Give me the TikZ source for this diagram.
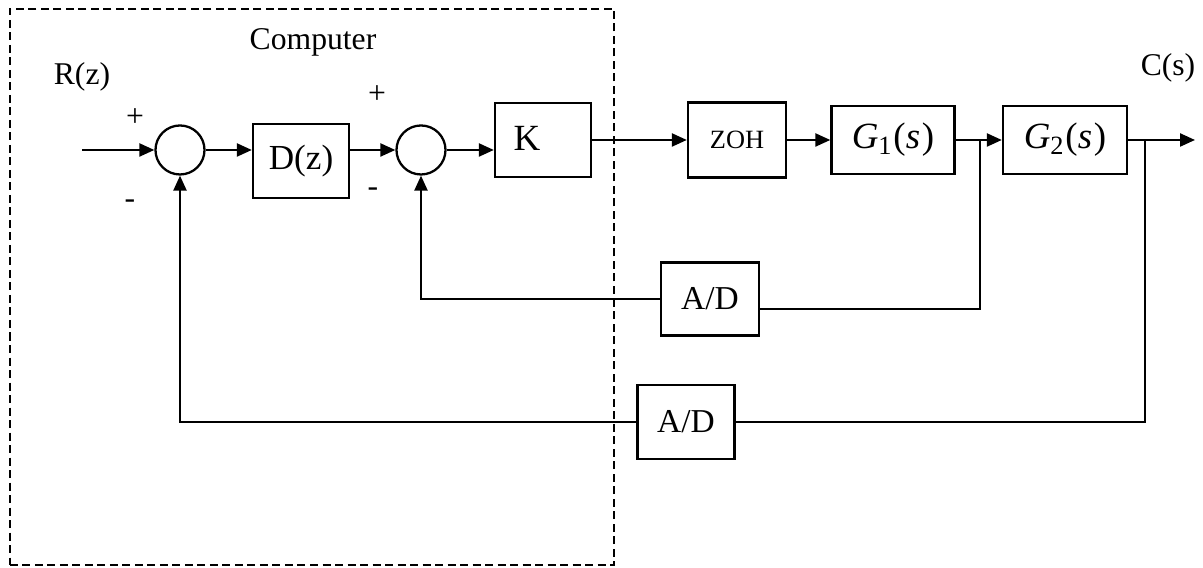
\documentclass[tikz,border=0pt]{standalone}
\usepackage{fontspec}
\setmainfont{Liberation Serif}
\usetikzlibrary{arrows.meta}
\newcommand{\gfun}[1]{\textit{G}\raisebox{-0.35ex}{\fontsize{7.5}{9}\selectfont #1}\kern0.05em(\textit{s}\kern0.05em)}
\begin{document}
\begin{tikzpicture}[x=0.01cm,y=-0.01cm,
  blk/.style={draw,line width=0.65pt,minimum height=0.74cm,inner sep=0pt,font=\fontsize{10}{12}\selectfont},
  sumc/.style={draw,circle,line width=0.65pt,minimum size=0.49cm,inner sep=0pt},
  conn/.style={line width=0.65pt},
  arr/.style={conn,-{Triangle[length=0.15cm,width=0.13cm]}},
  lbl/.style={font=\fontsize{9}{11}\selectfont,inner sep=0pt},
  sgn/.style={font=\fontsize{9}{11}\selectfont,inner sep=0pt},
  ]
\useasboundingbox (0,0) rectangle (1203,568);
% computer boundary
\node[draw,line width=0.6pt,dash pattern=on 0.08cm off 0.045cm,minimum width=6.04cm,minimum height=5.56cm,inner sep=0pt] (comp) at (312,287) {};
\node[lbl] (complbl) at (313,42) {Computer};
\node[lbl] (Rz) at (82,77) {R(z)};
\node[lbl] (Cs) at (1168,68) {C(s)};
% blocks
\node[sumc] (s1) at (180,150) {};
\node[blk,minimum width=0.96cm] (D) at (301,161) {D(z)};
\node[sumc] (s2) at (421,150) {};
\node[blk,minimum width=0.96cm,label={[font=\fontsize{10.5}{12}\selectfont,xshift=-0.16cm,yshift=0.02cm]center:K}] (K) at (543,140) {};
\node[blk,minimum width=0.98cm,minimum height=0.75cm,font=\fontsize{7.5}{9}\selectfont] (Z) at (737,140) {ZOH};
\node[blk,minimum width=1.23cm,minimum height=0.68cm,font=\fontsize{10.5}{12}\selectfont] (G1) at (893,140) {\gfun{1}};
\node[blk,minimum width=1.24cm,minimum height=0.68cm,font=\fontsize{10.5}{12}\selectfont] (G2) at (1065,140) {\gfun{2}};
\node[blk,minimum width=0.98cm,minimum height=0.73cm,font=\fontsize{9.5}{11}\selectfont] (A1) at (710,299) {A/D};
\node[blk,minimum width=0.97cm,minimum height=0.74cm,font=\fontsize{9.5}{11}\selectfont] (A2) at (686,422) {A/D};
% signs
\node[sgn] (p1) at (135,118) {+};
\node[sgn] (m1) at (130,204) {-};
\node[sgn] (p2) at (377,95) {+};
\node[sgn] (m2) at (373,192) {-};
% coordinates
\coordinate (in) at (82,150);
\coordinate (b1) at (980,140);
\coordinate (c1) at (980,309);
\coordinate (b2) at (1145,140);
\coordinate (out) at (1195,140);
% forward path
\draw[arr] (in) -- (s1.west);
\draw[arr] (s1.east) -- (s1.east -| D.west);
\draw[arr] (D.east |- s2.west) -- (s2.west);
\draw[arr] (s2.east) -- (s2.east -| K.west);
\draw[arr] (K.east) -- (Z.west);
\draw[arr] (Z.east) -- (G1.west);
\draw[arr] (G1.east) -- (G2.west);
\draw[arr] (G2.east) -- (out);
% inner feedback
\draw[conn] (b1) -- (c1) -- (c1 -| A1.east);
\draw[arr] (A1.west) -| (s2.south);
% outer feedback
\draw[conn] (b2) |- (A2.east);
\draw[arr] (A2.west) -| (s1.south);
\end{tikzpicture}
\end{document}
